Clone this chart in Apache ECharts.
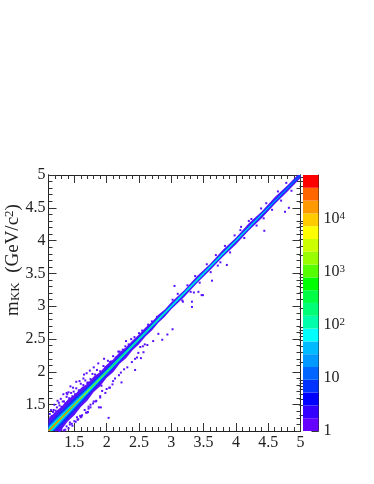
<!DOCTYPE html>
<html><head><meta charset="utf-8">
<style>html,body{margin:0;padding:0;background:#fff}#c{width:374px;height:484px}</style>
<script src="https://cdn.jsdelivr.net/npm/echarts@6/dist/echarts.min.js"></script>
</head><body><div id="c"></div>
<script>
// ---- axes
const xMin = 1.1, xMax = 5, yMin = 1.1, yMax = 5;
const majorTicks = [1.5,2,2.5,3,3.5,4,4.5,5];
const minorTicks = [1.1,1.2,1.3,1.4,1.6,1.7,1.8,1.9,2.1,2.2,2.3,2.4,2.6,2.7,2.8,2.9,3.1,3.2,3.3,3.4,3.6,3.7,3.8,3.9,4.1,4.2,4.3,4.4,4.6,4.7,4.8,4.9];
// ---- colour scale
const bandEdges = [1,1.74,3.03,5.28,9.2,16,27.9,48.6,84.6,147,257,447,778,1355,2360,4110,7160,12470,21700,37800,65800];
const bandColors = ['#6600ff','#3300ff','#0000ff','#0033ff','#0066ff','#0099ff','#00bbff','#00ffff','#00ffaa','#00ff77','#00ff44','#00ff00','#55ff00','#99ff00','#ccff00','#ffff00','#ffcc00','#ff9900','#ff6600','#ff0000'];
const scaleMajor = [1,10,100,1000,10000];
const scaleMinor = [2,3,4,5,6,7,8,9,20,30,40,50,60,70,80,90,200,300,400,500,600,700,800,900,2000,3000,4000,5000,6000,7000,8000,9000,20000,30000,40000,50000,60000];
// ---- ridge of the 2D histogram: half-width of each contour around y = x
const stations = [1.1,1.2,1.3,1.4,1.5,1.6,1.7,1.8,1.9,2.0,2.1,2.2,2.3,2.4,2.5,2.6,2.7,2.8,2.9,3.0,3.2,3.4,3.6,3.8,4.0,4.2,4.4,4.6,4.8,5.0];
const upperPurple = [.18,.19,.17,.18,.15,.15,.12,.13,.1,.11,.09,.1,.075,.08,.07,.075,.06,.07,.05,.06,.045,.06,.045,.06,.045,.065,.045,.06,.045,.045];
const lowerPurple = [.18,.17,.18,.15,.16,.135,.14,.105,.12,.09,.105,.075,.09,.07,.08,.06,.07,.05,.06,.045,.06,.045,.05,.045,.06,.045,.06,.045,.05,.045];
const halfDeepBlue = [.11,.11,.11,.105,.095,.085,.075,.065,.06,.055,.05,.048,.044,.04,.037,.036,.034,.033,.032,.03,.03,.03,.03,.03,.03,.028,.027,.026,.026,.024];
const halfBlue = [.07,.07,.065,.06,.056,.05,.045,.04,.036,.034,.032,.03,.028,.027,.026,.025,.024,.024,.023,.023,.022,.022,.021,.02,.019,.017,.015,.012,.009,.004];
const halfCyan = [.042,.042,.038,.035,.032,.029,.026,.023,.02,.018,.016,.015,.014,.013,.012,.012,.012,.012,.012,.012,.012,.012,.011,.01,.008,.006,.004,.002,0,0];
const halfGreen = [.024,.024,.022,.02,.017,.015,.013,.011,.01,.009,.008,.007,.006,.005,.004,.003,.003,.002,.001,0,0,0,0,0,0,0,0,0,0,0];
const halfYellow = [.014,.014,.012,.01,.009,.007,.005,.004,.003,.001,0,0,0,0,0,0,0,0,0,0,0,0,0,0,0,0,0,0,0,0];
const halfRed = [.009,.008,.007,.005,.003,.001,0,0,0,0,0,0,0,0,0,0,0,0,0,0,0,0,0,0,0,0,0,0,0,0];
// ---- isolated single-count cells
const strayX = [1.13,1.13,1.18,1.26,1.34,1.39,1.38,1.49,1.64,1.71,1.64,1.70,1.72,1.79,1.88,1.55,1.91,2.03,2.23,2.44,2.53,2.47,2.86,3.02,2.94,2.30,2.05,2.05,1.92,1.71,1.61,1.43,2.18,2.52,2.56,2.59,
 4.82,4.76,4.44,4.20,4.08,3.86,3.63,3.47,3.42,3.35,3.32,3.32,3.18,3.72,3.05,3.49,
 1.12,1.15,1.17,1.21,1.23,1.27,1.3,1.32,1.36,1.38,1.42,1.45,1.47,1.51,1.53,1.57,1.6,1.63,1.67,1.7,1.75,1.78,1.82,1.85,1.9,1.95,1.98,2.02,2.07,2.1,2.14,2.2,2.25,2.29,2.34,2.38,2.43,2.5,2.55,2.64,2.7,2.78,
 1.22,1.27,1.3,1.34,1.38,1.43,1.46,1.5,1.54,1.59,1.62,1.66,1.72,1.75,1.8,1.84,1.9,1.93,1.98,2.04,2.09,2.13,2.19,2.22,2.27,2.32,2.39,2.44,2.49,2.57,2.63,2.72,2.8,
 1.14,1.19,1.24,1.29,1.33,1.41,1.44,1.48,1.53,1.58,1.65,1.69,1.74,1.8,1.87,1.96,
 1.36,1.41,1.47,1.52,1.56,1.6,1.68,1.75,1.83,1.9,2.0,2.1,
 3.02,3.1,3.17,3.25,3.3,3.37,3.44,3.55,3.61,3.69,3.76,3.83,3.91,3.98,4.07,4.13,4.24,4.32,4.39,4.43,4.47,4.56,4.65,4.7,4.78,4.86];
const strayY = [1.28,1.31,1.42,1.53,1.55,1.66,1.68,1.70,1.80,1.84,1.90,1.38,1.47,1.52,1.46,1.27,1.46,1.30,1.84,2.03,2.21,2.22,2.49,2.65,2.57,2.47,2.15,1.76,1.79,1.39,1.32,1.23,2.31,2.38,2.39,2.42,
 4.50,4.44,4.15,4.30,4.21,3.63,3.39,3.17,3.22,3.21,3.07,2.99,3.07,3.62,3.31,3.17,
 1.36,1.33,1.39,1.41,1.46,1.49,1.47,1.55,1.52,1.62,1.6,1.68,1.63,1.66,1.75,1.72,1.82,1.76,1.87,1.83,1.89,1.97,1.96,2.03,2.01,2.09,2.07,2.17,2.16,2.24,2.22,2.31,2.34,2.39,2.42,2.5,2.53,2.59,2.63,2.72,2.77,2.84,
 1.11,1.1,1.12,1.11,1.17,1.2,1.21,1.25,1.31,1.33,1.34,1.42,1.44,1.5,1.55,1.56,1.61,1.71,1.68,1.76,1.81,1.9,1.95,1.99,2.04,2.07,2.15,2.2,2.29,2.3,2.41,2.47,2.58,
 1.42,1.5,1.56,1.59,1.66,1.69,1.78,1.76,1.85,1.86,1.96,1.98,2.02,2.07,2.13,2.2,
 1.12,1.14,1.18,1.24,1.28,1.31,1.38,1.46,1.55,1.63,1.74,1.86,
 3.1,3.19,3.09,3.32,3.22,3.46,3.36,3.64,3.52,3.78,3.67,3.92,3.82,4.08,4.16,4.04,4.33,4.23,4.49,4.34,4.57,4.47,4.75,4.61,4.88,4.76];

const F = 'Liberation Serif';
const yTitle = '{m|m}{s|KK}{n|  (GeV/c}{u|2}{n|)}';
const levels = [
  {c:'#5a10ff', up:upperPurple, lo:lowerPurple},
  {c:'#0a30ff', up:halfDeepBlue, lo:halfDeepBlue},
  {c:'#0099ff', up:halfBlue, lo:halfBlue},
  {c:'#00f0e0', up:halfCyan, lo:halfCyan},
  {c:'#10f040', up:halfGreen, lo:halfGreen},
  {c:'#f0f000', up:halfYellow, lo:halfYellow},
  {c:'#ff3000', up:halfRed, lo:halfRed}
];
const ridgeData = levels.map((_, i) => [i]);
const bandData = bandColors.map((_, i) => [0, 1, bandEdges[i], bandEdges[i+1]]);

function tickAxis(type, pos, vals, len, show) {
  return {
    type:'value', gridIndex:0, position:pos, min: type==='x'?xMin:yMin, max: type==='x'?xMax:yMax,
    axisLine:{show:true,onZero:false,lineStyle:{color:'#222',width:1}}, splitLine:{show:false},
    axisTick:{show:true,inside:true,length:len,customValues:vals,lineStyle:{color:'#333',width:1}},
    axisLabel:show?{show:true,customValues:vals,color:'#222',fontFamily:F,fontSize:16,margin:show,
      showMinLabel:true,showMaxLabel:true,formatter:v=>String(+v.toFixed(1))}:{show:false}
  };
}
const option = {
  backgroundColor:'#fff', animation:false,
  grid:[
    {left:48.5,top:175,width:252,height:256,containLabel:false,outerBoundsMode:'none'},
    {left:303,top:175,width:15.5,height:256,containLabel:false,outerBoundsMode:'none'}
  ],
  graphic:[{type:'text',x:13,y:260,rotation:Math.PI/2,silent:true,
    style:{text:yTitle,align:'center',verticalAlign:'middle',fontFamily:F,fill:'#222',
      rich:{
        m:{fontFamily:F,fontSize:19,fill:'#222'},
        n:{fontFamily:F,fontSize:19,fill:'#222'},
        s:{fontFamily:F,fontSize:13,fill:'#222',verticalAlign:'bottom'},
        u:{fontFamily:F,fontSize:13,fill:'#222',verticalAlign:'top'}
      }}}],
  xAxis:[
    tickAxis('x','bottom',majorTicks,8,4),
    tickAxis('x','bottom',minorTicks,4,0),
    tickAxis('x','top',majorTicks,8,0),
    tickAxis('x','top',minorTicks,4,0),
    {type:'value',gridIndex:1,min:0,max:1,show:false}
  ],
  yAxis:[
    tickAxis('y','left',majorTicks,8,3),
    tickAxis('y','left',minorTicks,4,0),
    tickAxis('y','right',majorTicks,8,0),
    tickAxis('y','right',minorTicks,4,0),
    {type:'log',logBase:10,gridIndex:1,position:'right',min:1,max:65800,
      axisLine:{show:true,onZero:false,lineStyle:{color:'#222',width:1}},splitLine:{show:false},
      axisTick:{show:true,inside:true,length:7,customValues:scaleMajor,lineStyle:{color:'#333'}},
      axisLabel:{show:true,customValues:scaleMajor,margin:5,color:'#222',fontFamily:F,fontSize:16,
        formatter:v=>{const e=Math.round(Math.log10(v));return e<2?String(Math.round(v)):'10{u|'+e+'}';},
        rich:{u:{fontFamily:F,fontSize:11,color:'#222',verticalAlign:'top',padding:[0,0,5,0]}}}},
    {type:'log',logBase:10,gridIndex:1,position:'right',min:1,max:65800,
      axisLine:{show:false},splitLine:{show:false},axisLabel:{show:false},
      axisTick:{show:true,inside:true,length:3.5,customValues:scaleMinor,lineStyle:{color:'#333'}}}
  ],
  series:[
    {type:'custom',xAxisIndex:0,yAxisIndex:0,coordinateSystem:'cartesian2d',clip:true,data:ridgeData,silent:true,
      encode:{x:0,y:0},
      renderItem(p,api){
        const l=levels[api.value(0)], top=[], bot=[];
        stations.forEach((s,i)=>{
          if(l.up[i]>0||l.lo[i]>0||(i>0&&l.up[i-1]>0)){top.push(api.coord([s,s+l.up[i]]));bot.unshift(api.coord([s,s-l.lo[i]]));}
        });
        return {type:'polygon',shape:{points:top.concat(bot)},style:{fill:l.c}};
      }},
    {type:'scatter',xAxisIndex:0,yAxisIndex:0,symbol:'rect',symbolSize:[2,2],clip:true,silent:true,
      itemStyle:{color:'#5a10ff',opacity:1},
      data:strayX.map((x,i)=>[x,strayY[i]])},
    {type:'custom',xAxisIndex:4,yAxisIndex:4,coordinateSystem:'cartesian2d',clip:true,data:bandData,silent:true,
      encode:{x:[0,1],y:[2,3]},
      renderItem(p,api){
        const a=api.coord([0,api.value(2)]), b=api.coord([1,api.value(3)]);
        return {type:'rect',shape:{x:a[0],y:b[1],width:b[0]-a[0],height:a[1]-b[1]},style:{fill:bandColors[p.dataIndex]}};
      }}
  ]
};
echarts.init(document.getElementById('c'),null,{renderer:'canvas'}).setOption(option);
</script></body></html>
